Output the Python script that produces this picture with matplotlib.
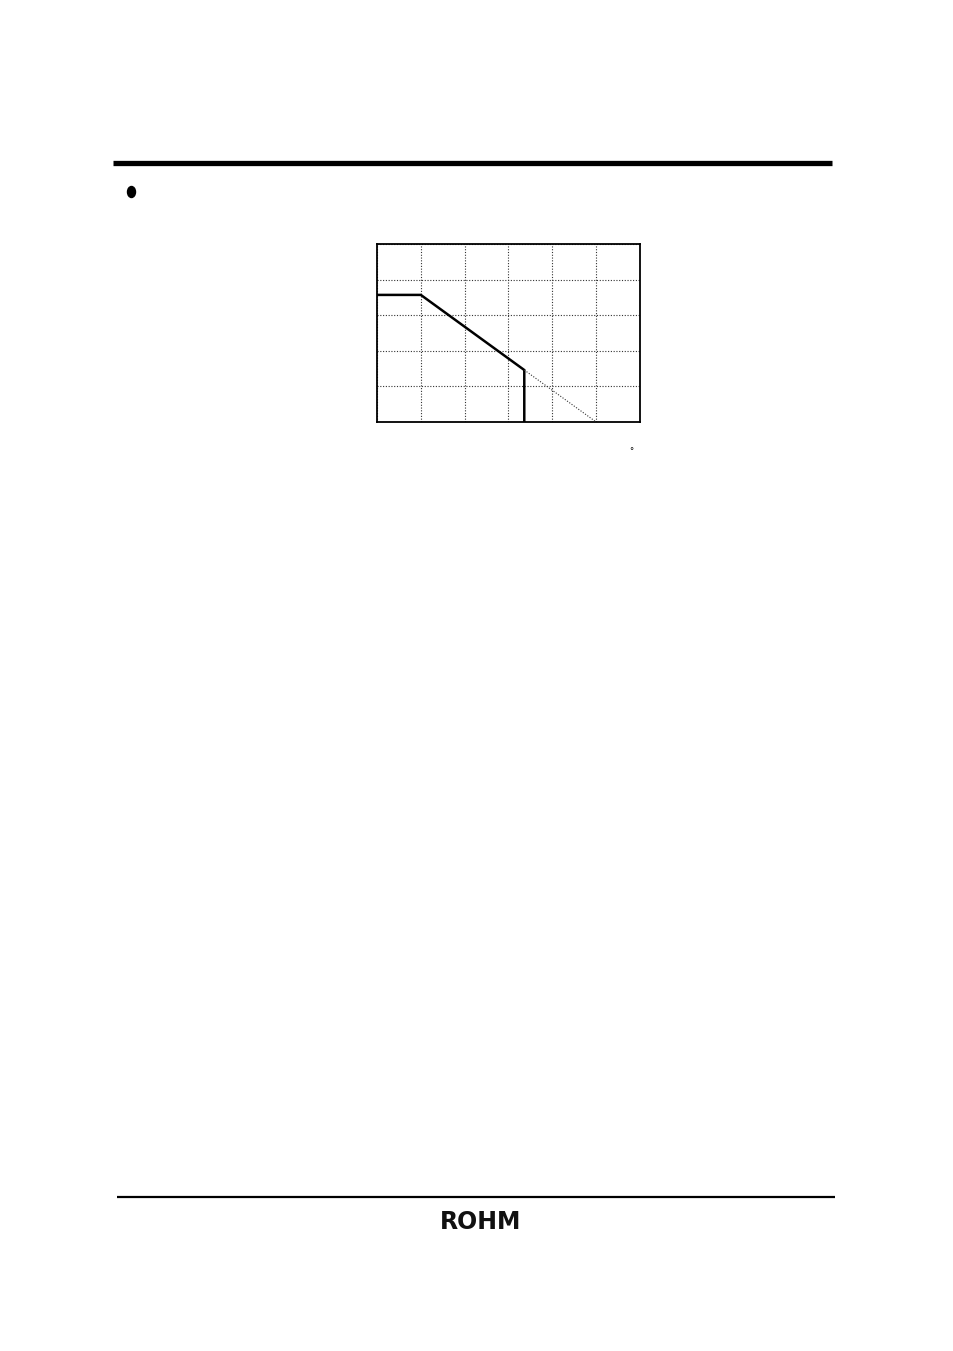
import matplotlib
matplotlib.use("Agg")
import matplotlib.pyplot as plt
from matplotlib.patches import Ellipse

# Data (derating curve)
temp_solid = [0, 25, 84, 84]
power_solid = [357, 357, 146, 0]
temp_dotted = [84, 125]
power_dotted = [146, 0]
x_ticks = [0, 25, 50, 75, 100, 125, 150]
y_ticks = [0, 100, 200, 300, 400, 500]

W, H = 954, 1351
fig = plt.figure(figsize=(W / 100, H / 100), dpi=100)
fig.patch.set_facecolor("white")

def fx(px):
    return px / W

def fy(py):
    return 1 - py / H

# top thick rule
fig.add_artist(plt.Line2D([fx(113), fx(832)], [fy(163), fy(163)], color="black", lw=3.8,
                          solid_capstyle="butt"))
# bullet
fig.add_artist(Ellipse((fx(131.5), fy(192)), width=8 / W, height=11 / H, color="black",
                       transform=fig.transFigure))
# bottom rule
fig.add_artist(plt.Line2D([fx(117), fx(835)], [fy(1197), fy(1197)], color="black", lw=1.6,
                          solid_capstyle="butt"))
# logo
fig.text(fx(481), fy(1222), "ROHM", ha="center", va="center", fontsize=17,
         fontweight="heavy", family="DejaVu Sans", color="#111111")

# chart
left, right, top, bottom = 377, 640, 244, 422
ax = fig.add_axes([fx(left), fy(bottom), (right - left) / W, (bottom - top) / H])
ax.set_xlim(x_ticks[0], x_ticks[-1])
ax.set_ylim(y_ticks[0], y_ticks[-1])
ax.set_xticks(x_ticks)
ax.set_yticks(y_ticks)
ax.tick_params(length=0, labelbottom=False, labelleft=False)
ax.grid(True, color="#333333", linestyle=(0, (1, 1.5)), linewidth=0.8)
for s in ax.spines.values():
    s.set_linewidth(1.3)
    s.set_color("black")

ax.plot(temp_solid, power_solid, color="black", lw=1.8, solid_joinstyle="miter", zorder=3)
ax.plot(temp_dotted, power_dotted, color="#333333", lw=0.8, linestyle=(0, (1, 1.5)), zorder=3)

fig.text(fx(631), fy(452), "°", ha="center", va="center", fontsize=6, color="black")

fig.savefig("out.png", dpi=100, facecolor="white")
